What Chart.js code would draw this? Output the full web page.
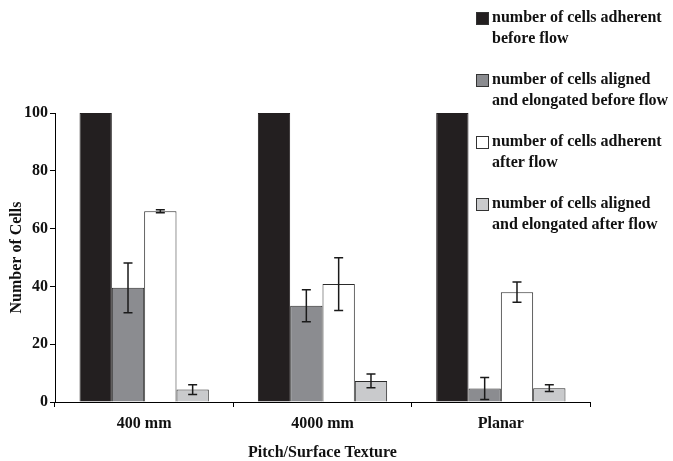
<!DOCTYPE html>
<html>
<head>
<meta charset="utf-8">
<title>Number of Cells</title>
<script src="https://cdn.jsdelivr.net/npm/chart.js@4.4.0/dist/chart.umd.min.js"></script>
<style>
  html, body { margin: 0; padding: 0; background: #fff; }
  #wrap { position: relative; width: 673px; height: 461px; }
  #legend { position: absolute; left: 476px; top: 6px; font: bold 16px 'Liberation Serif', 'Times New Roman', serif; color: #111; }
  .item { position: absolute; left: 0; white-space: nowrap; line-height: 21px; }
  .box { position: absolute; left: 0; top: 6px; width: 11px; height: 11px; border: 1px solid #333; }
  .txt { position: absolute; left: 16px; top: 0; }
</style>
</head>
<body>
<div id="wrap">
  <canvas id="chart" width="673" height="461"></canvas>
  <div id="legend"></div>
</div>
<script>
const categories = ['400 mm', '4000 mm', 'Planar'];

const seriesNames = [
  ['number of cells adherent', 'before flow'],
  ['number of cells aligned', 'and elongated before flow'],
  ['number of cells adherent', 'after flow'],
  ['number of cells aligned', 'and elongated after flow']
];

const adherentBefore = [100, 100, 100];
const alignedBefore = [39.5, 33.3, 4.7];
const adherentAfter = [66, 40.8, 38];
const alignedAfter = [4.3, 7.3, 4.8];

const alignedBeforeErr = [8.6, 5.5, 3.8];
const adherentAfterErr = [0.5, 9.1, 3.5];
const alignedAfterErr = [1.7, 2.4, 1.2];

const fills = ['#231f20', '#8b8c90', '#ffffff', '#c9cacc'];
const edges = ['#231f20', '#2a2a2a', '#2a2a2a', '#2a2a2a'];

const values = [adherentBefore, alignedBefore, adherentAfter, alignedAfter];
const errors = [null, alignedBeforeErr, adherentAfterErr, alignedAfterErr];

const serif = "'Liberation Serif', 'Times New Roman', serif";

// error bars drawn on top of bars, positioned through the y scale
const errorBars = {
  id: 'errorBars',
  afterDatasetsDraw(chart) {
    const ctx = chart.ctx;
    const y = chart.scales.y;
    chart.data.datasets.forEach((ds, i) => {
      if (!ds.errors) return;
      chart.getDatasetMeta(i).data.forEach((bar, j) => {
        const e = ds.errors[j];
        if (!e) return;
        const v = ds.data[j];
        const top = y.getPixelForValue(v + e);
        const bot = y.getPixelForValue(v - e);
        const x = bar.x;
        ctx.save();
        ctx.strokeStyle = '#1a1a1a';
        ctx.lineWidth = 1.5;
        ctx.beginPath();
        ctx.moveTo(x, top); ctx.lineTo(x, bot);
        ctx.moveTo(x - 4.5, top); ctx.lineTo(x + 4.5, top);
        ctx.moveTo(x - 4.5, bot); ctx.lineTo(x + 4.5, bot);
        ctx.stroke();
        ctx.restore();
      });
    });
  }
};

const datasets = values.map((d, i) => ({
  label: seriesNames[i].join(' '),
  data: d,
  errors: errors[i],
  backgroundColor: fills[i],
  borderColor: edges[i],
  borderWidth: 1,
  barPercentage: 1,
  categoryPercentage: 0.725
}));

new Chart(document.getElementById('chart'), {
  type: 'bar',
  data: { labels: categories, datasets: datasets },
  options: {
    responsive: false,
    animation: false,
    layout: { padding: { top: 113, right: 83, left: 0, bottom: 0 } },
    plugins: { legend: { display: false }, tooltip: { enabled: false } },
    scales: {
      x: {
        afterFit: (axis) => { axis.height = 59; },
        grid: { drawOnChartArea: false, tickLength: 5, color: '#000' },
        border: { color: '#000', width: 1 },
        ticks: { color: '#111', padding: 7, font: { family: serif, size: 16, weight: 'bold' } },
        title: { display: true, text: 'Pitch/Surface Texture', color: '#111', padding: { top: 0, bottom: 0 },
                 font: { family: serif, size: 16, weight: 'bold', lineHeight: 1.05 } }
      },
      y: {
        min: 0, max: 100,
        afterFit: (axis) => { axis.width = 55; },
        grid: { drawOnChartArea: false, tickLength: 5, color: '#000' },
        border: { color: '#000', width: 1 },
        ticks: { stepSize: 20, color: '#111', padding: 2, font: { family: serif, size: 16, weight: 'bold' } },
        title: { display: true, text: 'Number of Cells', color: '#111', padding: { top: 7, bottom: 0 },
                 font: { family: serif, size: 16, weight: 'bold' } }
      }
    }
  },
  plugins: [errorBars]
});

// legend with two-line entries, built from the series names
const legend = document.getElementById('legend');
seriesNames.forEach((lines, i) => {
  const item = document.createElement('div');
  item.className = 'item';
  item.style.top = (i * 62) + 'px';
  const box = document.createElement('div');
  box.className = 'box';
  box.style.background = fills[i];
  const txt = document.createElement('div');
  txt.className = 'txt';
  txt.innerHTML = lines.join('<br>');
  item.appendChild(box);
  item.appendChild(txt);
  legend.appendChild(item);
});
</script>
</body>
</html>
